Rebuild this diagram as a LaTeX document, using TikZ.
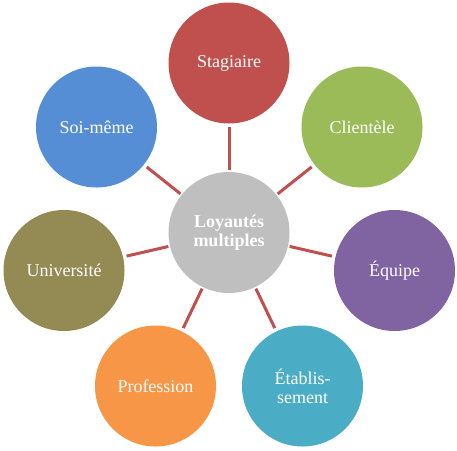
\documentclass[tikz,border=0pt]{standalone}
\usepackage{fontspec}
\setmainfont{Liberation Serif}
\definecolor{cred}{HTML}{C0504D}
\definecolor{cgreen}{HTML}{9BBB59}
\definecolor{cpurple}{HTML}{8064A2}
\definecolor{cteal}{HTML}{4BACC6}
\definecolor{corange}{HTML}{F79646}
\definecolor{colive}{HTML}{948A54}
\definecolor{cblue}{HTML}{558ED5}
\definecolor{cgray}{HTML}{BFBFBF}
\tikzset{
  bubble/.style={circle, minimum size=121pt, inner sep=0pt, text=white, font=\fontsize{18}{19}\selectfont, align=center},
  hub/.style={bubble, fill=cgray, font=\bfseries\fontsize{18}{19}\selectfont},
  link/.style={draw=cred, line width=3pt, shorten <=1.5pt, shorten >=3.5pt}
}
\begin{document}
\begin{tikzpicture}[x=1pt,y=-1pt]
\useasboundingbox[fill=white] (0,0) rectangle (457,450);
\node[hub] (c) at (229,232.5) {Loyautés\\multiples};
\node[bubble, fill=cred] (s) at (229,63) {Stagiaire};
\node[bubble, fill=cgreen] (cl) at (362,127) {Clientèle};
\node[bubble, fill=cpurple] (e) at (394.5,270.5) {Équipe};
\node[bubble, fill=cteal] (et) at (302.5,386) {Établis-\\sement};
\node[bubble, fill=corange] (p) at (155.5,386) {Profession};
\node[bubble, fill=colive] (u) at (64,270.5) {Université};
\node[bubble, fill=cblue] (sm) at (96.5,127) {Soi-même};
\foreach \n in {s,cl,e,et,p,u,sm}{
  \draw[link] (c) -- (\n);
}
\end{tikzpicture}
\end{document}
